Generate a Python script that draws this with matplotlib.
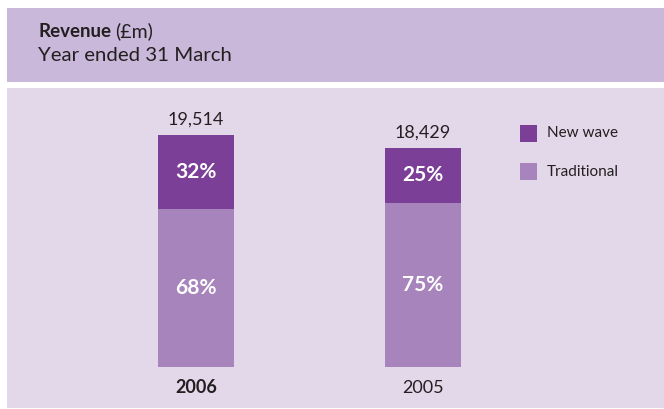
import numpy as np
import matplotlib
matplotlib.use('agg')
import matplotlib.pyplot as plt
from matplotlib.patches import Rectangle

# data
years = ['2006', '2005']
revenue = [19514, 18429]
new_wave_pct = [32, 25]
traditional_pct = [68, 75]
legend_labels = ['New wave', 'Traditional']

dark = '#7b3f98'
light = '#a784bc'
header_bg = '#c9b8da'
panel_bg = '#e3d8ea'
txt = '#231f20'

plt.rcParams['font.family'] = ['Lato', 'DejaVu Sans']

W, H = 664, 409
fig = plt.figure(figsize=(W / 100, H / 100), dpi=100)
fig.patch.set_facecolor('white')

def fx(px):
    return px / W

def fy(py):
    return 1 - py / H

# header band and panel (behind the axes)
fig.patches.append(Rectangle((fx(7), fy(82)), fx(657), 74 / H, transform=fig.transFigure,
                             facecolor=header_bg, edgecolor='none', zorder=-2))
fig.patches.append(Rectangle((fx(7), fy(408)), fx(657), 320 / H, transform=fig.transFigure,
                             facecolor=panel_bg, edgecolor='none', zorder=-2))

t = fig.text(fx(38), fy(37), 'Revenue', fontsize=13.5, fontweight='bold', color=txt, va='baseline')
fig.canvas.draw()
bb = t.get_window_extent()
fig.text(bb.x1 / W + fx(4), fy(37), '(£m)', fontsize=14, color=txt, va='baseline')
fig.text(fx(38), fy(61), 'Year ended 31 March', fontsize=14.7, color=txt, va='baseline')

# bar axes: baseline at y=367px, top at y=100px
ax = fig.add_axes([fx(7), fy(367), fx(657), 267 / H])
ax.set_facecolor('none')
for s in ax.spines.values():
    s.set_visible(False)
ax.set_xticks([])
ax.set_yticks([])

x = np.arange(len(years))
rev = np.array(revenue, dtype=float)
trad = rev * np.array(traditional_pct) / 100
new = rev * np.array(new_wave_pct) / 100
bw = 76 / 227
ax.bar(x, trad, width=bw, color=light, label=legend_labels[1])
ax.bar(x, new, width=bw, bottom=trad, color=dark, label=legend_labels[0])
ax.set_xlim(-189 / 227, 1 + 241 / 227)
ax.set_ylim(0, revenue[0] * 267 / 232)

for i in range(len(years)):
    ax.text(x[i], trad[i] / 2, '%d%%' % traditional_pct[i], ha='center', va='center',
            color='white', fontsize=15, fontweight='bold')
    ax.text(x[i], trad[i] + new[i] / 2, '%d%%' % new_wave_pct[i], ha='center', va='center',
            color='white', fontsize=15, fontweight='bold')
    ax.annotate('{:,}'.format(revenue[i]), (x[i], rev[i]), xytext=(0, 7.5),
                textcoords='offset points', ha='center', va='baseline', fontsize=13, color=txt)
    ax.annotate(years[i], (x[i], 0), xytext=(0, -18.5), textcoords='offset points',
                ha='center', va='baseline', fontsize=13, color=txt,
                fontweight='bold' if i == 0 else 'normal')

# legend drawn by hand in figure coords
for j, (lab, c) in enumerate(zip(legend_labels, [dark, light])):
    ytop = 125 + 38 * j
    fig.patches.append(Rectangle((fx(520), fy(ytop + 17)), fx(17), 17 / H,
                                 transform=fig.transFigure, facecolor=c, edgecolor='none'))
    fig.text(fx(547), fy(ytop + 8.5), lab, fontsize=11, color=txt, va='center')

fig.savefig('out.png', dpi=100, facecolor='white')
